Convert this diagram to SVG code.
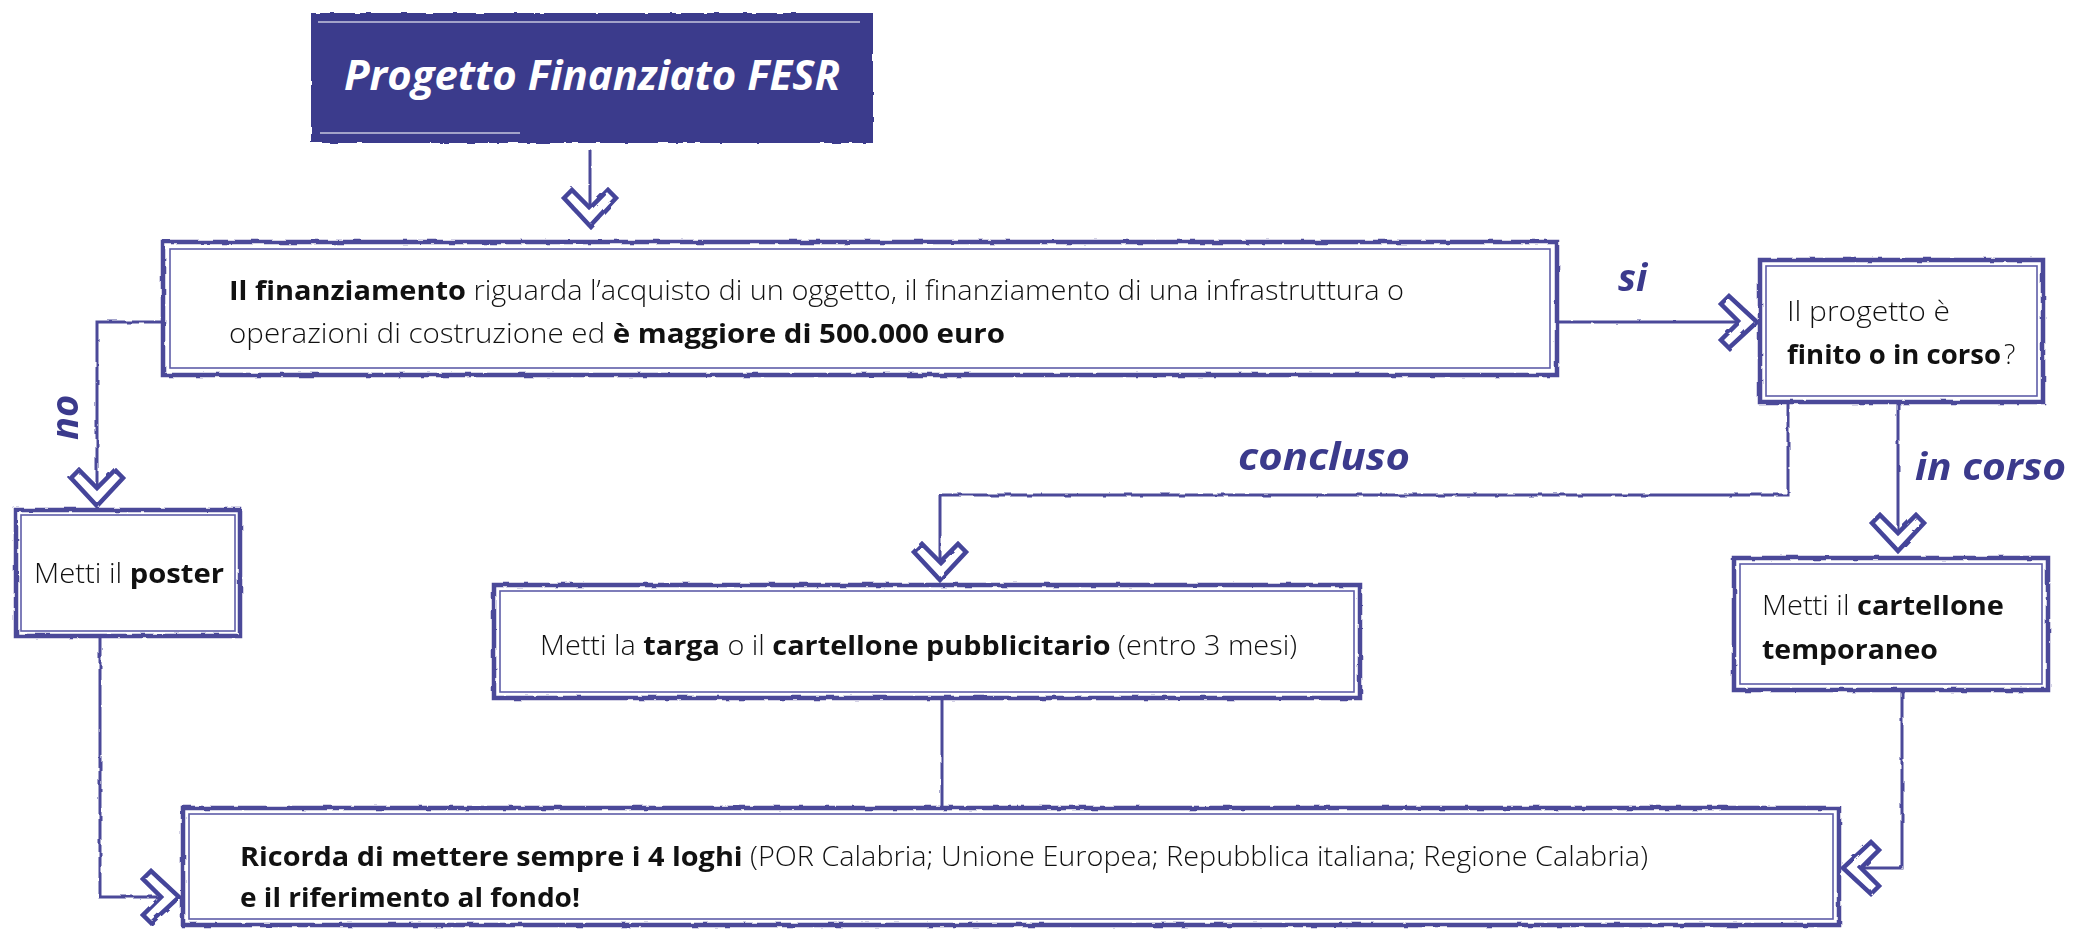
<svg xmlns="http://www.w3.org/2000/svg" xmlns:xlink="http://www.w3.org/1999/xlink" width="2092" height="931" viewBox="0 0 2092 931">
<style>
.bx{fill:#fff;stroke:#4b4a99;stroke-width:4.5}
.bxo{fill:none;stroke:#5e5da8;stroke-width:1.6}
.ln{fill:none;stroke:#4b4a99;stroke-width:3;stroke-linejoin:miter}
.ch{fill:#fff;stroke:#45449a;stroke-width:4.5;stroke-linejoin:miter}
.t{font-family:"Open Sans","Noto Sans","Liberation Sans",sans-serif;font-weight:300;font-size:27px;fill:#111}
.t .b,.tb{font-weight:700}
.lab{font-family:"Open Sans","Noto Sans","Liberation Sans",sans-serif;font-weight:700;font-style:italic;font-size:38px;fill:#3b3a8c}
.ttl{font-family:"Open Sans","Noto Sans","Liberation Sans",sans-serif;font-weight:700;font-style:italic;font-size:42px;fill:#fff}
</style>
<defs>
<filter id="rough" x="-5%" y="-5%" width="110%" height="110%">
<feTurbulence type="fractalNoise" baseFrequency="0.08" numOctaves="2" seed="3"/>
<feDisplacementMap in="SourceGraphic" scale="3"/>
</filter>
<path id="chev" d="M-26,-28 L-18,-36 L0,-18 L18,-36 L26,-28 L0,0 Z"/>
</defs>
<rect width="2092" height="931" fill="#fff"/>

<g id="connectors" filter="url(#rough)">
<path class="ln" d="M590,150 V222"/>
<path class="ln" d="M163,322 H97 V500"/>
<path class="ln" d="M1541,322 H1752"/>
<path class="ln" d="M1898,402 V545"/>
<path class="ln" d="M1788,402 V495 H940 V574"/>
<path class="ln" d="M100,636 V897 H174"/>
<path class="ln" d="M942,698 V808"/>
<path class="ln" d="M1902,690 V868 H1848"/>
<use href="#chev" class="ch" transform="translate(590,226)"/>
<use href="#chev" class="ch" transform="translate(97,506)"/>
<use href="#chev" class="ch" transform="translate(1757,322) rotate(-90)"/>
<use href="#chev" class="ch" transform="translate(1898,551)"/>
<use href="#chev" class="ch" transform="translate(940,580)"/>
<use href="#chev" class="ch" transform="translate(179,897) rotate(-90)"/>
<use href="#chev" class="ch" transform="translate(1843,868) rotate(90)"/>
</g>

<g id="title">
<rect x="311" y="13" width="562" height="130" fill="#3b3a8c" filter="url(#rough)"/>
<path d="M318,22 H860 M320,133 H520" stroke="#fff" stroke-width="1.5" opacity="0.7"/>
<text class="ttl" x="592" y="90" text-anchor="middle" textLength="496" lengthAdjust="spacingAndGlyphs">Progetto Finanziato FESR</text>
</g>

<g id="n-finanziamento">
<rect class="bx" x="163" y="242" width="1394" height="133" filter="url(#rough)"/>
<rect class="bxo" x="170" y="249" width="1380" height="119"/>
<text class="t" x="229" y="300" textLength="1175" lengthAdjust="spacingAndGlyphs"><tspan class="b">Il finanziamento</tspan> riguarda l’acquisto di un oggetto,  il finanziamento di una infrastruttura o</text>
<text class="t" x="229" y="343" textLength="776" lengthAdjust="spacingAndGlyphs">operazioni di costruzione ed <tspan class="b">è maggiore di 500.000 euro</tspan></text>
</g>

<g id="n-progetto">
<rect class="bx" x="1760" y="260" width="283" height="142" filter="url(#rough)"/>
<rect class="bxo" x="1766" y="266" width="271" height="130"/>
<text class="t" x="1787" y="321" textLength="163" lengthAdjust="spacingAndGlyphs">Il progetto è</text>
<text class="t tb" x="1787" y="364" textLength="214" lengthAdjust="spacingAndGlyphs">finito o in corso</text>
<text class="t" x="2004" y="364">?</text>
</g>

<g id="n-poster">
<rect class="bx" x="16" y="510" width="224" height="126" filter="url(#rough)"/>
<rect class="bxo" x="21" y="515" width="214" height="116"/>
<text class="t" x="34" y="583" textLength="190" lengthAdjust="spacingAndGlyphs">Metti il <tspan class="b">poster</tspan></text>
</g>

<g id="n-targa">
<rect class="bx" x="494" y="585" width="866" height="113" filter="url(#rough)"/>
<rect class="bxo" x="500" y="591" width="854" height="101"/>
<text class="t" x="540" y="655" textLength="757" lengthAdjust="spacingAndGlyphs">Metti la <tspan class="b">targa</tspan> o il <tspan class="b">cartellone pubblicitario</tspan> (entro 3 mesi)</text>
</g>

<g id="n-temporaneo">
<rect class="bx" x="1734" y="558" width="314" height="132" filter="url(#rough)"/>
<rect class="bxo" x="1740" y="564" width="302" height="120"/>
<text class="t" x="1762" y="615" textLength="242" lengthAdjust="spacingAndGlyphs">Metti il <tspan class="b">cartellone</tspan></text>
<text class="t" x="1762" y="659" textLength="176" lengthAdjust="spacingAndGlyphs"><tspan class="b">temporaneo</tspan></text>
</g>

<g id="n-ricorda">
<rect class="bx" x="183" y="808" width="1656" height="117" filter="url(#rough)"/>
<rect class="bxo" x="189" y="814" width="1644" height="105"/>
<text class="t" x="240" y="866" textLength="1408" lengthAdjust="spacingAndGlyphs"><tspan class="b">Ricorda di mettere sempre i 4 loghi</tspan> (POR Calabria; Unione Europea; Repubblica italiana; Regione Calabria)</text>
<text class="t" x="240" y="907" textLength="340" lengthAdjust="spacingAndGlyphs"><tspan class="b">e il riferimento al fondo!</tspan></text>
</g>

<g id="labels">
<text class="lab" x="1618" y="291">si</text>
<text class="lab" x="1915" y="480" textLength="151" lengthAdjust="spacingAndGlyphs">in corso</text>
<text class="lab" x="1238" y="470" textLength="172" lengthAdjust="spacingAndGlyphs">concluso</text>
<text class="lab" transform="translate(78,440) rotate(-90)">no</text>
</g>
</svg>
